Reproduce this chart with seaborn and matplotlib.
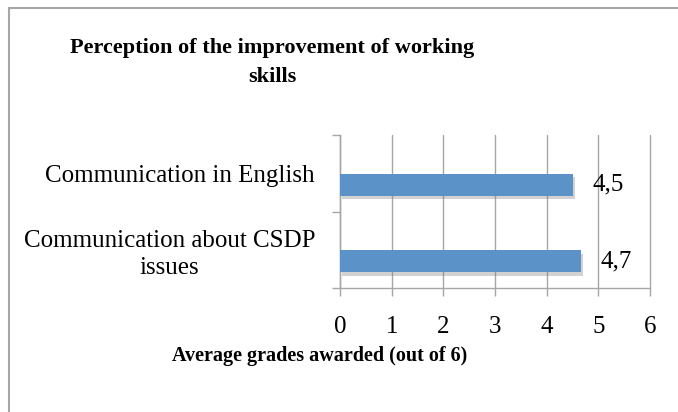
import matplotlib
matplotlib.use("Agg")
import matplotlib.pyplot as plt
import matplotlib.patheffects as pe
from matplotlib.patches import Rectangle
import pandas as pd
import seaborn as sns

# data
skills = ["Communication in English", "Communication about CSDP\nissues"]
grades = [4.5, 4.66]
x_ticks = [0, 1, 2, 3, 4, 5, 6]
title = "Perception of the improvement of working\nskills"
x_label = "Average grades awarded (out of 6)"

df = pd.DataFrame({"skill": skills, "grade": grades})

sns.set_style("white")
plt.rcParams["font.family"] = ["Liberation Serif", "DejaVu Serif"]
plt.rcParams["text.color"] = "black"
plt.rcParams["xtick.labelcolor"] = "black"
plt.rcParams["ytick.labelcolor"] = "black"
grey = "#a6a6a6"

fig = plt.figure(figsize=(6.78, 4.12), dpi=100)
ax = fig.add_axes([340 / 678, 1 - 288 / 412, 310 / 678, 153 / 412])

sns.barplot(data=df, x="grade", y="skill", orient="h", color="#5b93c9",
            width=0.29, saturation=1, linewidth=0, ax=ax, zorder=3)
for bar in ax.patches:
    bar.set_path_effects([pe.SimplePatchShadow(offset=(1.5, -2.5), shadow_rgbFace="#808080", alpha=0.35),
                          pe.Normal()])

# Excel draws the bars a bit lower than the middle of each category
shift = 0.15
ax.set_ylim(len(skills) - 0.5 - shift, -0.5 - shift)
ax.set_xlim(0, 6)

ax.set_xticks(x_ticks)
ax.set_xticklabels([str(t) for t in x_ticks], fontsize=18)
ax.set_yticks([i - 0.5 - shift for i in range(len(skills) + 1)])
ax.set_yticklabels([])
ax.set_yticks([i - shift for i in range(len(skills))], minor=True)
ax.set_yticklabels(skills, minor=True, fontsize=18, multialignment="center", linespacing=1.25)
ax.tick_params(axis="y", which="major", length=6, width=1, color=grey, left=True, direction="out")
ax.tick_params(axis="y", which="minor", length=0, pad=18)
ax.tick_params(axis="x", length=6, width=1, color=grey, bottom=True, direction="out", pad=14)

ax.grid(axis="x", color=grey, linewidth=1, zorder=0)
for gl in ax.get_xgridlines():
    gl.set_clip_on(False)
ax.grid(axis="y", visible=False)
for side in ["top", "right"]:
    ax.spines[side].set_visible(False)
for side in ["left", "bottom"]:
    ax.spines[side].set_color(grey)
    ax.spines[side].set_linewidth(1)
ax.set_xlabel("")
ax.set_ylabel("")

for bar, g in zip(ax.patches, grades):
    ax.annotate(f"{g:.1f}".replace(".", ","), (bar.get_width(), bar.get_y() + bar.get_height() / 2),
                xytext=(20, 0), textcoords="offset pixels", va="center", ha="left", fontsize=18)

fig.text(272 / 678, 1 - 63 / 412, title, ha="center", va="center", fontsize=16,
         fontweight="bold", linespacing=1.6)
fig.text(320 / 678, 1 - 356 / 412, x_label, ha="center", va="center", fontsize=14.5,
         fontweight="bold")

fig.patches.append(Rectangle((9 / 678, -0.1), 1.2, 1 - 8 / 412 + 0.1, transform=fig.transFigure,
                             fill=False, edgecolor=grey, linewidth=1.5))

fig.savefig("out.png", dpi=100)
